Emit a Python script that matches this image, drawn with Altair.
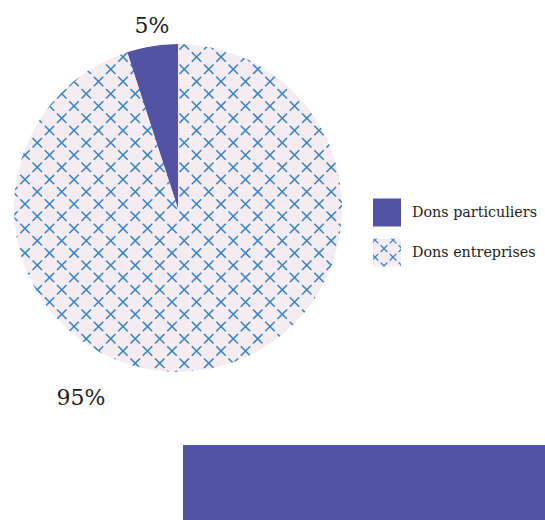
import altair as alt
import pandas as pd

# ---- data ----
categories = ["Dons particuliers", "Dons entreprises"]
values = [5, 95]
stack_order = [2, 1]
colors = ["#5353a3", "#f4ecf1"]

PURPLE = "#5353a3"
XBLUE = "#3b87cc"
FONT = "DejaVu Serif"
CX, CY, R = 178, 208, 164
W, H = 545, 520

df = pd.DataFrame({"cat": categories, "value": values, "ord": stack_order})
df["label"] = df["value"].astype(str) + "%"

xs = alt.Scale(domain=[0, W], nice=False, zero=False)
ys = alt.Scale(domain=[H, 0], nice=False, zero=False)
cscale = alt.Scale(domain=categories, range=colors)

color_enc = alt.Color(
    "cat:N",
    scale=cscale,
    legend=alt.Legend(
        orient="none", legendX=373, legendY=199, title=None,
        symbolType="square", symbolSize=784, symbolStrokeWidth=0,
        symbolOpacity=0, labelFont=FONT, labelFontSize=14.3,
        labelColor="#1e1e1e", labelOffset=11, rowPadding=12, padding=0,
        labelLimit=300,
    ),
)

base = alt.Chart(df)

pie = base.mark_arc(outerRadius=R, stroke=None).encode(
    theta=alt.Theta("value:Q", stack=True),
    order=alt.Order("ord:Q"),
    color=color_enc,
    x=alt.value(CX), y=alt.value(CY),
)

# cross-hatch texture for the 95% slice (lattice built by Vega transforms)
pattern = (
    alt.Chart(alt.sequence(0, 464, as_="i"))
    .transform_calculate(
        row="floor(datum.i / 16) - 10",
        col="(datum.i % 16) - 1",
    )
    .transform_calculate(
        px="25 + 24.5 * datum.col + (abs(datum.row % 2) == 1 ? 12.25 : 0)",
        py="155 + 12.25 * datum.row",
    )
    .transform_filter(f"pow(datum.px - {CX}, 2) + pow(datum.py - {CY}, 2) < pow({R + 6}, 2)")
    .mark_point(shape="M-1,-1L1,1M1,-1L-1,1", size=90, filled=False,
                stroke=XBLUE, strokeWidth=1.7, opacity=1)
    .encode(x=alt.X("px:Q", scale=xs, axis=None), y=alt.Y("py:Q", scale=ys, axis=None))
)

top_slice = base.mark_arc(outerRadius=R, stroke=None, fill=PURPLE).encode(
    theta=alt.Theta("value:Q", stack=True),
    order=alt.Order("ord:Q"),
    fillOpacity=alt.condition("datum.cat == 'Dons particuliers'", alt.value(1), alt.value(0)),
    x=alt.value(CX), y=alt.value(CY),
)

ring = alt.Chart(pd.DataFrame({"k": [0]})).mark_arc(
    innerRadius=R, outerRadius=R + 22, fill="white", stroke=None
).encode(theta=alt.value(0), theta2=alt.value(6.2832), x=alt.value(CX), y=alt.value(CY))

lab_small = base.transform_filter("datum.cat == 'Dons particuliers'").mark_text(
    font=FONT, fontSize=22, color="#1e1e1e", align="center", baseline="middle"
).encode(text="label:N", x=alt.value(152), y=alt.value(26))

lab_big = base.transform_filter("datum.cat == 'Dons entreprises'").mark_text(
    font=FONT, fontSize=22, color="#1e1e1e", align="center", baseline="middle"
).encode(text="label:N", x=alt.value(81), y=alt.value(398))

# legend swatches (drawn as marks so the texture can sit on top)
swatches = base.transform_calculate(
    sy="datum.cat == 'Dons particuliers' ? 212.5 : 252.5"
).mark_square(size=784, opacity=1, strokeWidth=0).encode(
    x=alt.value(387),
    y=alt.Y("sy:Q", scale=ys, axis=None),
    color=alt.Color("cat:N", scale=cscale, legend=None),
)

leg_pattern = (
    alt.Chart(alt.sequence(0, 8, as_="i"))
    .transform_calculate(row="floor(datum.i / 2)", col="datum.i % 2")
    .transform_calculate(
        px="375 + 18 * datum.col + (datum.row % 2 == 1 ? 9 : 0)",
        py="240 + 8.6 * datum.row",
    )
    .mark_point(shape="M-1,-1L1,1M1,-1L-1,1", size=45, filled=False,
                stroke=XBLUE, strokeWidth=1.3, opacity=1)
    .encode(x=alt.X("px:Q", scale=xs, axis=None), y=alt.Y("py:Q", scale=ys, axis=None))
)

mdf = pd.DataFrame({"k": [0]})
masks = [
    alt.Chart(mdf).mark_rect(fill="white").encode(x=alt.value(364), x2=alt.value(373), y=alt.value(230), y2=alt.value(276)),
    alt.Chart(mdf).mark_rect(fill="white").encode(x=alt.value(401), x2=alt.value(410), y=alt.value(230), y2=alt.value(276)),
    alt.Chart(mdf).mark_rect(fill="white").encode(x=alt.value(364), x2=alt.value(410), y=alt.value(230), y2=alt.value(238.5)),
    alt.Chart(mdf).mark_rect(fill="white").encode(x=alt.value(364), x2=alt.value(410), y=alt.value(266.5), y2=alt.value(276)),
]

band = alt.Chart(mdf).mark_rect(fill=PURPLE).encode(
    x=alt.value(183), x2=alt.value(W), y=alt.value(445), y2=alt.value(H)
)

chart = alt.layer(
    pie, pattern, top_slice, ring, lab_small, lab_big,
    swatches, leg_pattern, *masks, band
).properties(
    width=W, height=H, padding=0, autosize="none", background="white"
).configure_view(stroke=None)

chart.save("out.html", embed_options={"renderer": "svg", "actions": False})
